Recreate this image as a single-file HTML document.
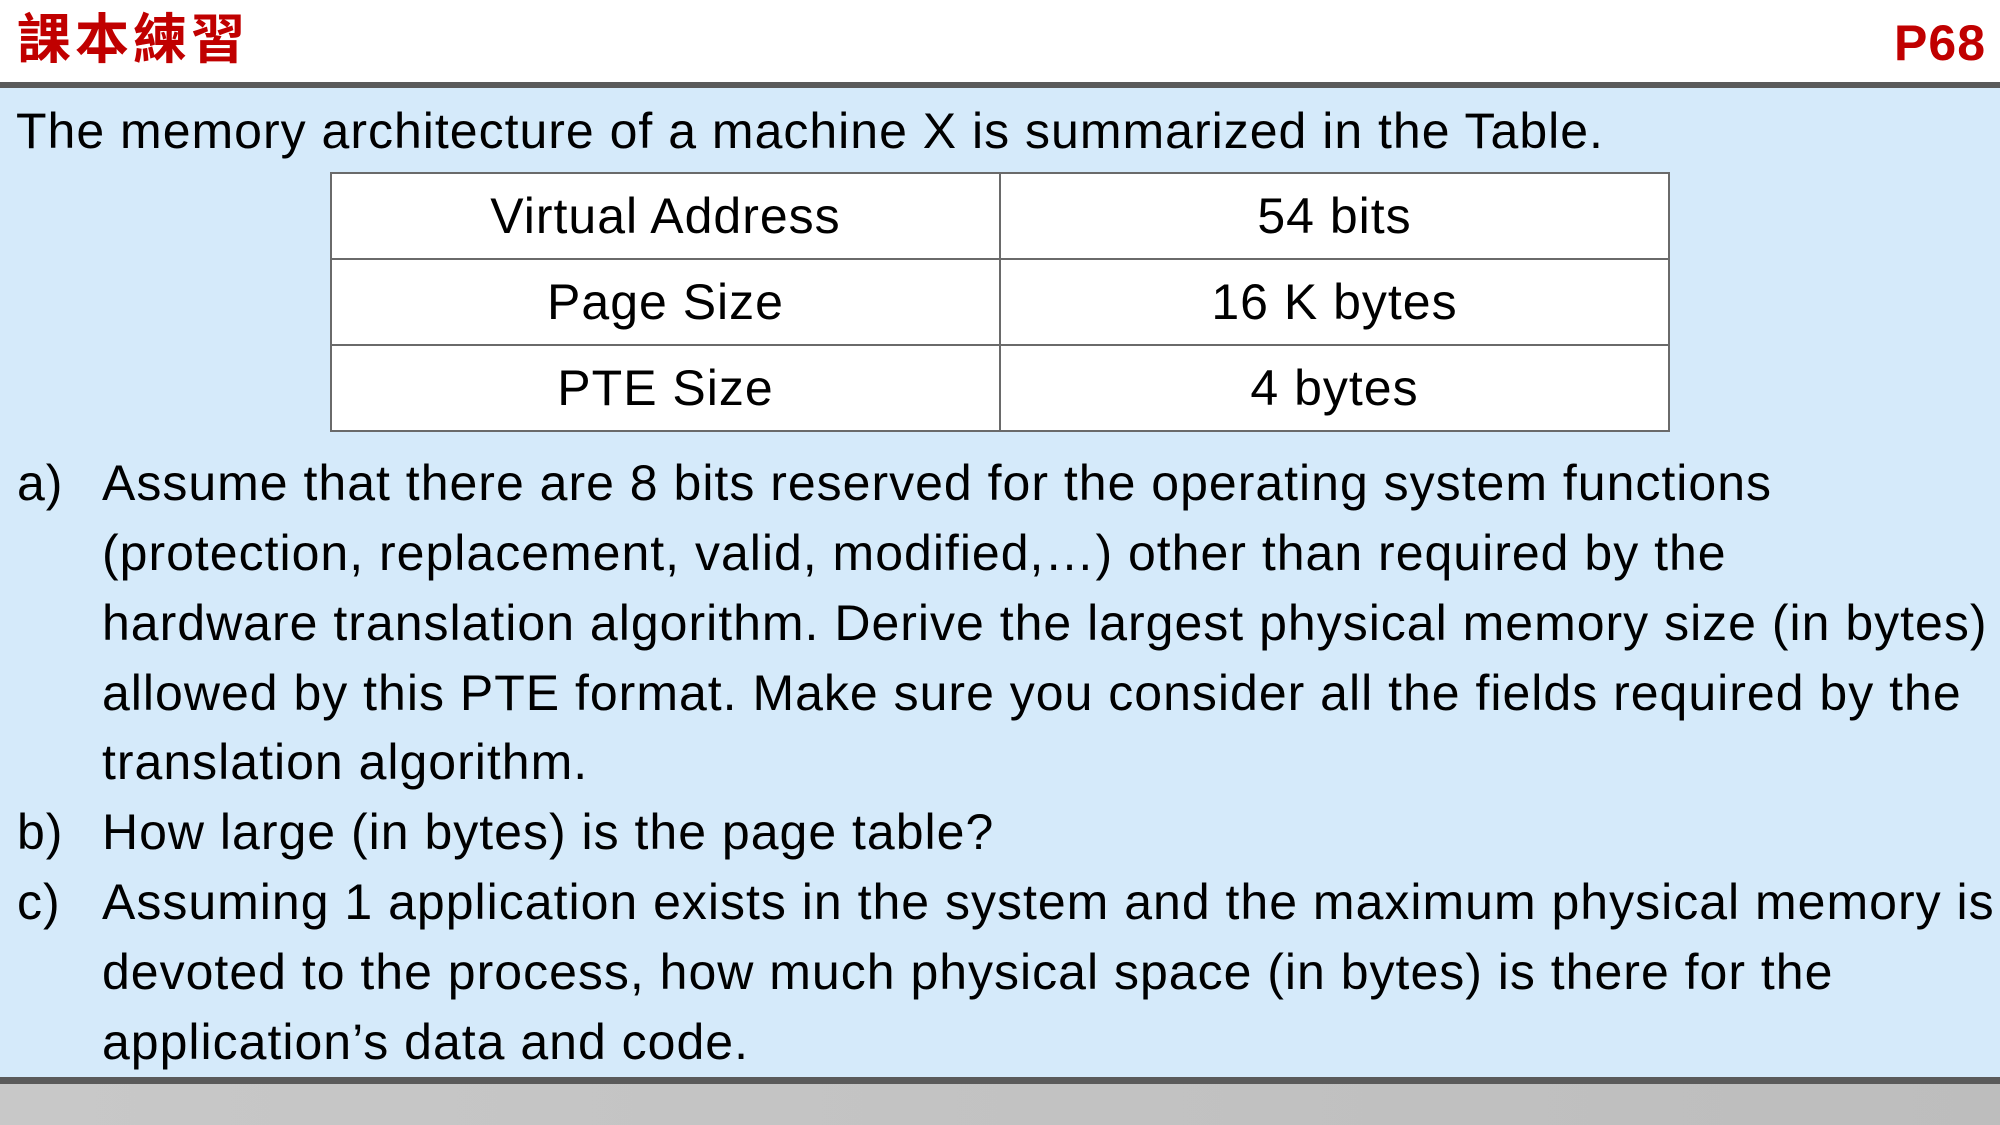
<!DOCTYPE html>
<html><head><meta charset="utf-8"><style>
html,body{margin:0;padding:0}
body{width:2000px;height:1125px;position:relative;overflow:hidden;background:#d5eafa;font-family:"Liberation Sans","Noto Sans CJK TC",sans-serif;color:#000}
#top{position:absolute;left:0;top:0;width:2000px;height:82px;background:#fff}
#hl{position:absolute;left:0;top:82px;width:2000px;height:6px;background:#5a5a5a}
#bl{position:absolute;left:0;top:1077px;width:2000px;height:7px;background:#5a5a5a}
#bot{position:absolute;left:0;top:1084px;width:2000px;height:41px;background:linear-gradient(90deg,#c8c8c8,#bdbdbd)}
.t{position:absolute;white-space:nowrap;font-size:50px;line-height:1;letter-spacing:1px}
table{position:absolute;left:330px;top:172px;border-collapse:collapse;background:#fff}
td{border:2px solid #6a6a6a;width:667px;height:84px;text-align:center;font-size:50px;padding:0;letter-spacing:1px}
</style></head><body>
<div id="top"></div>
<div class="t" style="left:17px;top:8px;font-size:54px;color:#c00000;font-weight:bold;font-family:'Noto Sans CJK TC',sans-serif;letter-spacing:4px">課本練習</div>
<div class="t" style="right:14px;top:18px;font-size:50px;color:#c00000;font-weight:bold">P68</div>
<div id="hl"></div>
<div class="t" style="left:16px;top:106px">The memory architecture of a machine X is summarized in the Table.</div>
<table>
<tr><td>Virtual Address</td><td>54 bits</td></tr>
<tr><td>Page Size</td><td>16 K bytes</td></tr>
<tr><td>PTE Size</td><td>4 bytes</td></tr>
</table>
<div class="t" style="left:17px;top:458px">a)</div>
<div class="t" style="left:102px;top:458px">Assume that there are 8 bits reserved for the operating system functions</div>
<div class="t" style="left:102px;top:528px">(protection, replacement, valid, modified,…) other than required by the</div>
<div class="t" style="left:102px;top:598px">hardware translation algorithm. Derive the largest physical memory size (in bytes)</div>
<div class="t" style="left:102px;top:668px">allowed by this PTE format. Make sure you consider all the fields required by the</div>
<div class="t" style="left:102px;top:737px">translation algorithm.</div>
<div class="t" style="left:17px;top:807px">b)</div>
<div class="t" style="left:102px;top:807px">How large (in bytes) is the page table?</div>
<div class="t" style="left:17px;top:877px">c)</div>
<div class="t" style="left:102px;top:877px">Assuming 1 application exists in the system and the maximum physical memory is</div>
<div class="t" style="left:102px;top:947px">devoted to the process, how much physical space (in bytes) is there for the</div>
<div class="t" style="left:102px;top:1017px">application’s data and code.</div>
<div id="bl"></div>
<div id="bot"></div>
</body></html>
